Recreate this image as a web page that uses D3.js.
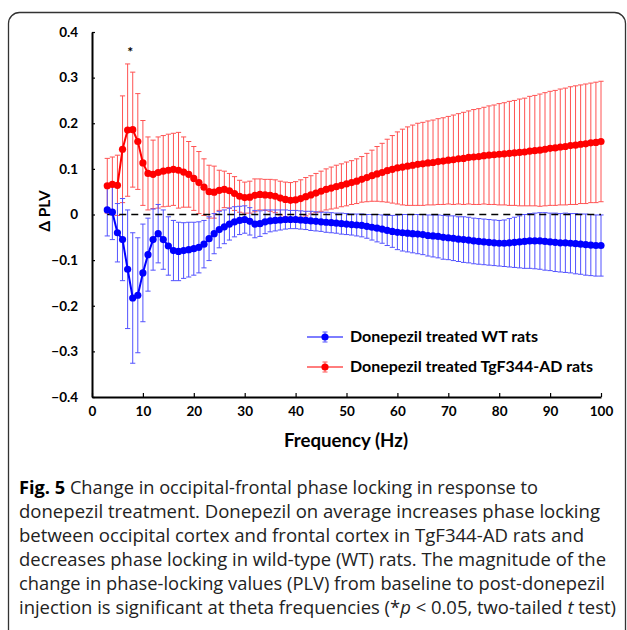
<!DOCTYPE html>
<html><head><meta charset="utf-8">
<script src="https://cdn.jsdelivr.net/npm/d3@7"></script>
<style>body{margin:0;background:#fff}svg{display:block}</style>
</head><body>
<svg id="c" width="627" height="630"></svg>
<script>
// ---- data ----
const freqs = d3.range(3, 101); // 3..100 Hz
const adMean = [0.063,0.066,0.064,0.143,0.185,0.186,0.160,0.113,0.090,0.088,
0.092,0.095,0.097,0.099,0.097,0.093,0.088,0.079,0.070,0.060,
0.050,0.049,0.053,0.055,0.052,0.046,0.040,0.037,0.038,0.042,
0.044,0.043,0.042,0.040,0.036,0.033,0.031,0.032,0.035,0.039,
0.043,0.047,0.051,0.055,0.058,0.061,0.064,0.067,0.070,0.073,
0.077,0.081,0.085,0.089,0.092,0.096,0.099,0.102,0.104,0.106,
0.108,0.110,0.111,0.113,0.114,0.116,0.117,0.119,0.120,0.122,
0.123,0.125,0.126,0.127,0.129,0.130,0.131,0.132,0.133,0.134,
0.135,0.136,0.137,0.139,0.140,0.141,0.143,0.145,0.146,0.148,
0.149,0.151,0.152,0.154,0.155,0.157,0.158,0.160];
const adErr = [0.060,0.060,0.066,0.117,0.145,0.126,0.105,0.093,0.080,0.075,
0.078,0.078,0.079,0.079,0.083,0.077,0.072,0.070,0.068,0.062,
0.058,0.057,0.044,0.040,0.038,0.037,0.035,0.034,0.035,0.036,
0.034,0.034,0.035,0.036,0.037,0.038,0.039,0.040,0.041,0.042,
0.042,0.043,0.044,0.045,0.046,0.047,0.047,0.048,0.048,0.049,
0.050,0.053,0.056,0.060,0.064,0.069,0.074,0.079,0.083,0.086,
0.088,0.090,0.091,0.092,0.093,0.094,0.095,0.096,0.098,0.099,
0.101,0.102,0.104,0.105,0.106,0.108,0.109,0.111,0.112,0.114,
0.115,0.117,0.118,0.120,0.121,0.123,0.124,0.125,0.126,0.127,
0.128,0.129,0.130,0.130,0.131,0.131,0.132,0.132];
const wtMean = [0.010,0.005,-0.040,-0.055,-0.120,-0.183,-0.177,-0.128,-0.088,-0.055,
-0.042,-0.055,-0.069,-0.079,-0.081,-0.079,-0.077,-0.075,-0.072,-0.065,
-0.053,-0.042,-0.033,-0.027,-0.021,-0.016,-0.013,-0.011,-0.015,-0.021,
-0.020,-0.016,-0.014,-0.013,-0.012,-0.011,-0.011,-0.011,-0.012,-0.013,
-0.014,-0.015,-0.016,-0.017,-0.018,-0.019,-0.020,-0.021,-0.022,-0.023,
-0.024,-0.026,-0.028,-0.030,-0.032,-0.035,-0.037,-0.039,-0.040,-0.041,
-0.042,-0.043,-0.044,-0.046,-0.047,-0.048,-0.050,-0.051,-0.052,-0.054,
-0.055,-0.056,-0.058,-0.059,-0.060,-0.061,-0.062,-0.063,-0.063,-0.062,
-0.061,-0.060,-0.059,-0.058,-0.058,-0.058,-0.059,-0.060,-0.061,-0.062,
-0.062,-0.063,-0.064,-0.065,-0.066,-0.067,-0.068,-0.068];
const wtErr = [0.057,0.060,0.064,0.090,0.130,0.143,0.126,0.107,0.080,0.067,
0.064,0.065,0.064,0.066,0.064,0.061,0.060,0.058,0.056,0.052,
0.048,0.044,0.040,0.037,0.035,0.033,0.031,0.030,0.030,0.030,
0.028,0.026,0.024,0.023,0.022,0.021,0.020,0.020,0.020,0.020,
0.021,0.021,0.021,0.022,0.022,0.022,0.023,0.023,0.023,0.024,
0.025,0.026,0.028,0.030,0.031,0.033,0.035,0.038,0.040,0.041,
0.042,0.043,0.044,0.045,0.046,0.047,0.048,0.048,0.049,0.049,
0.050,0.050,0.050,0.050,0.050,0.050,0.050,0.050,0.051,0.053,
0.055,0.057,0.059,0.060,0.061,0.062,0.063,0.063,0.064,0.064,
0.065,0.065,0.066,0.066,0.067,0.067,0.067,0.067];
const yTicks = [-0.4,-0.3,-0.2,-0.1,0,0.1,0.2,0.3,0.4];
const xTicks = [0,10,20,30,40,50,60,70,80,90,100];
const seriesNames = ["Donepezil treated WT rats","Donepezil treated TgF344-AD rats"];
const captionBold = "Fig. 5";
const captionLines = [
 " Change in occipital-frontal phase locking in response to",
 "donepezil treatment. Donepezil on average increases phase locking",
 "between occipital cortex and frontal cortex in TgF344-AD rats and",
 "decreases phase locking in wild-type (WT) rats. The magnitude of the",
 "change in phase-locking values (PLV) from baseline to post-donepezil",
 "injection is significant at theta frequencies (*p < 0.05, two-tailed t test)"
];

// ---- chart ----
const svg = d3.select("#c");
const FONT = "Lato, 'Open Sans', sans-serif";
svg.append("rect").attr("x",8.5).attr("y",12.5).attr("width",617).attr("height",630)
  .attr("rx",11).attr("fill","none").attr("stroke","#333").attr("stroke-width",1.3);

const x = d3.scaleLinear().domain([0,100]).range([92,601]);
const y = d3.scaleLinear().domain([-0.4,0.4]).range([397,32]);

const series = [
  {name:seriesNames[0], mean:wtMean, err:wtErr, color:"#0000ff", ecolor:"#5252ff", tl:188},
  {name:seriesNames[1], mean:adMean, err:adErr, color:"#ff0000", ecolor:"#ff5252", tl:243}
];
series.forEach(s => s.data = freqs.map((f,i)=>({f, m:s.mean[i], e:s.err[i]})));

function errorBars(s){
  const g = svg.append("g").attr("stroke",s.ecolor).attr("stroke-width",1).attr("fill","none");
  s.data.forEach(d=>{
    const xx = x(d.f), y1 = y(d.m+d.e), y2 = y(d.m-d.e);
    g.append("path").attr("d",`M${xx},${y1}V${y2}M${xx-2.6},${y1}H${xx+2.6}M${xx-2.6},${y2}H${xx+2.6}`);
  });
}
errorBars(series[1]);
errorBars(series[0]);

// zero line
svg.append("line").attr("x1",x(3)).attr("x2",x(100)).attr("y1",y(0)).attr("y2",y(0))
  .attr("stroke","#000").attr("stroke-width",1.5).attr("stroke-dasharray","7,5");

const line = d3.line().x(d=>x(d.f)).y(d=>y(d.m));
[series[1], series[0]].forEach(s=>{
  svg.append("path").datum(s.data).attr("d",line).attr("fill","none")
    .attr("stroke",s.color).attr("stroke-width",2);
  svg.append("g").selectAll("circle").data(s.data).join("circle")
    .attr("cx",d=>x(d.f)).attr("cy",d=>y(d.m)).attr("r",3.6).attr("fill",s.color);
});

// axes
const gx = svg.append("g").attr("transform",`translate(0,${y(-0.4)})`)
  .call(d3.axisBottom(x).tickValues(xTicks).tickSizeInner(-4).tickSizeOuter(0).tickPadding(9));
const gy = svg.append("g").attr("transform",`translate(${x(0)},0)`)
  .call(d3.axisLeft(y).tickValues(yTicks).tickSizeInner(-3).tickSizeOuter(0).tickPadding(14)
    .tickFormat(d=> d===0 ? "0" : d3.format(".1f")(d)));
[gx,gy].forEach(g=>{
  g.select(".domain").attr("stroke","#000").attr("stroke-width",2);
  g.selectAll(".tick line").attr("stroke","#000").attr("stroke-width",1.2);
  g.selectAll("text").attr("font-family",FONT).attr("font-weight","bold")
    .attr("font-size",13.5).attr("fill","#000");
});

svg.append("text").attr("x",346).attr("y",447).attr("text-anchor","middle")
  .attr("font-family",FONT).attr("font-weight","bold").attr("font-size",18)
  .attr("textLength",124).attr("lengthAdjust","spacingAndGlyphs").text("Frequency (Hz)");
svg.append("text").attr("transform","translate(50,211) rotate(-90)").attr("text-anchor","middle")
  .attr("font-family",FONT).attr("font-weight","bold").attr("font-size",15.5).text("Δ PLV");
svg.append("text").attr("x",x(7.5)).attr("y",57).attr("text-anchor","middle")
  .attr("font-family",FONT).attr("font-weight","bold").attr("font-size",14).text("*");

// legend
series.forEach((s,i)=>{
  const ly = 337 + i*30;
  const g = svg.append("g");
  g.append("line").attr("x1",307).attr("x2",343).attr("y1",ly).attr("y2",ly)
    .attr("stroke",s.ecolor).attr("stroke-width",1.5);
  g.append("path").attr("d",`M325,${ly-5}V${ly+5}M322.5,${ly-5}H327.5M322.5,${ly+5}H327.5`)
    .attr("stroke",s.ecolor).attr("stroke-width",1);
  g.append("circle").attr("cx",325).attr("cy",ly).attr("r",3.6).attr("fill",s.color);
  g.append("text").attr("x",350).attr("y",ly).attr("dy","0.35em")
    .attr("font-family",FONT).attr("font-weight","bold").attr("font-size",15.5)
    .attr("textLength",s.tl).attr("lengthAdjust","spacingAndGlyphs").text(s.name);
});

// caption
const capRight = [538,600,584,606,605,616];
captionLines.forEach((t,i)=>{
  const tx = svg.append("text").attr("x",19).attr("y",494 + i*24)
    .attr("font-family","'Open Sans', sans-serif").attr("font-size",18.5).attr("fill","#222")
    .attr("textLength",capRight[i]-19).attr("lengthAdjust","spacingAndGlyphs");
  if(i===0){ tx.append("tspan").attr("font-weight","bold").attr("fill","#000").text(captionBold); }
  if(i===5){
    tx.append("tspan").text("injection is significant at theta frequencies (*");
    tx.append("tspan").attr("font-style","italic").text("p");
    tx.append("tspan").text(" < 0.05, two-tailed ");
    tx.append("tspan").attr("font-style","italic").text("t");
    tx.append("tspan").text(" test)");
  } else {
    tx.append("tspan").text(t);
  }
});
</script>
</body></html>
